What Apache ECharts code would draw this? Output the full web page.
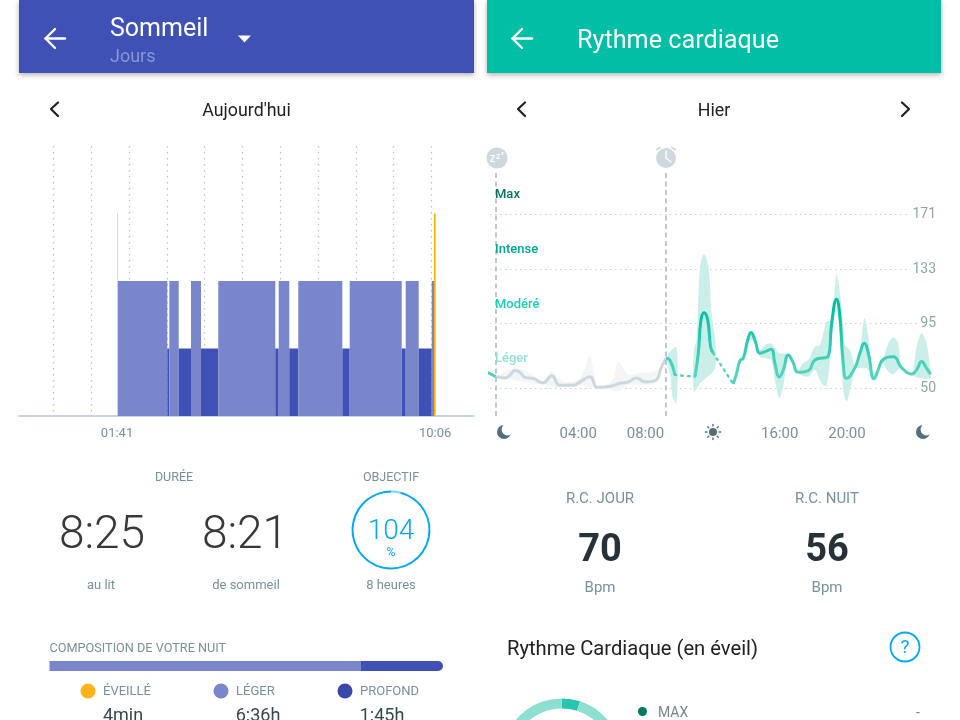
<!DOCTYPE html>
<html>
<head>
<meta charset="utf-8">
<title>Sommeil / Rythme cardiaque</title>
<style>html,body{margin:0;padding:0;background:#fff}#a{width:960px;height:720px}</style>
<script src="https://cdn.jsdelivr.net/npm/echarts@6/dist/echarts.min.js"></script>
</head>
<body>
<div id="a"></div>
<script>
// sommeil : minutes depuis minuit, stade 1 profond, 2 leger, 3 eveille
var sleepStart = [101.4, 102.4, 180.8, 184, 198.9, 218.4, 234.3, 261.7, 352.2, 357.6, 374.4, 388.7, 458.6, 470.3, 552.9, 559.2, 579.8, 600.5, 604.1];
var sleepEnd   = [102.4, 180.8, 184, 198.9, 218.4, 234.3, 261.7, 352.2, 357.6, 374.4, 388.7, 458.6, 470.3, 552.9, 559.2, 579.8, 600.5, 604.1, 606.8];
var sleepStage = [3, 2, 1, 2, 1, 2, 1, 2, 1, 2, 1, 2, 1, 2, 1, 2, 1, 2, 3];
var hourTicks = [0, 60, 120, 180, 240, 300, 360, 420, 480, 540, 600];
var sleepLabels = [101, 606];
var compoLight = [396];
var compoDeep = [105];
var goalPart = [4, 96];

// rythme cardiaque : [heure, bpm]
var hrTicks = [50, 95, 133, 171];
var hourLabels = [4, 8, 16, 20];
var sleepMarks = [-0.92, 9.23];
var hrBefore = [[-1.45, 61.4], [-0.91, 58.1]];
var hrNight = [[-0.91, 58.1], [-0.36, 57.2], [-0.06, 59.3], [0.24, 62.3], [0.54, 60.9], [0.83, 57.6], [1.33, 56.7], [1.92, 53.9], [2.42, 58.5], [2.92, 52.1], [3.71, 52.1], [4.11, 54.4], [4.70, 58.1], [5.14, 50.7], [5.99, 51.6], [6.49, 53.5], [6.98, 54.4], [7.48, 57.2], [7.98, 54.4], [8.57, 55.3], [8.97, 65.1], [9.23, 70.9]];
var hrMorning = [[9.23, 70.9], [9.46, 69.7], [9.76, 59.3]];
var hrGap1 = [[9.76, 59.3], [10.36, 58.6], [10.95, 58.1]];
var hrPeak = [[10.95, 58.1], [11.15, 74.4], [11.31, 97.6], [11.49, 102.7], [11.71, 97.6], [11.88, 79], [12.04, 74.4]];
var hrGap2 = [[12.04, 74.4], [13.23, 53.0]];
var hrDay = [[13.23, 53.0], [13.43, 60.4], [13.63, 69.3], [13.83, 70.9], [14.09, 83.6], [14.29, 88.8], [14.52, 83.6], [14.82, 74.4], [15.12, 75.5], [15.48, 77.2], [15.71, 67.4], [15.97, 57.9], [16.21, 62.8], [16.51, 73.2], [16.77, 68.6], [17.10, 61.1], [17.70, 62.3], [18.09, 69.7], [18.89, 72.5], [19.09, 95.3], [19.38, 112.0], [19.58, 99.9], [19.78, 67.4], [19.98, 56.9], [20.48, 64.4], [20.77, 74.4], [21.03, 81.3], [21.27, 74.4], [21.61, 56.7], [21.86, 62.8], [22.12, 69.7], [22.76, 72.0], [23.25, 64.4], [23.85, 60.0], [24.15, 62.8], [24.44, 68.6], [24.74, 63.9], [24.98, 59.7]];

// plages min / max autour de la courbe
var nightUpper = [[-0.91, 58.1], [0.24, 63.9], [1.13, 60.4], [1.92, 54.6], [2.42, 61.6], [3.11, 54.6], [4.11, 57], [4.70, 72.5], [5.14, 52.3], [5.99, 54.6], [6.39, 68.5], [6.98, 59.3], [7.48, 60.4], [8.57, 61.6], [8.97, 65.1], [9.23, 70.9]];
var nightLower = [[9.23, 70.9], [8.57, 53.5], [6.98, 52.3], [6.39, 47.6], [5.99, 48.8], [5.14, 49.8], [4.11, 52.3], [2.92, 50.7], [1.92, 52.3], [-0.91, 58.1]];
var morningUpper = [[9.23, 70.9], [9.46, 75.5], [9.86, 78.6]];
var morningLower = [[9.86, 39.5], [9.62, 44.2], [9.46, 60.4], [9.23, 70.9]];
var peakUpper = [[10.89, 76.7], [11.05, 83.7], [11.25, 134.8], [11.49, 143.6], [11.75, 134.8], [11.94, 102.2], [12.14, 84.8]];
var peakLower = [[12.14, 63.9], [11.25, 53.5], [10.89, 47.6]];
var dayUpper = [[13.23, 53.0], [13.63, 69.3], [14.09, 84.8], [14.29, 89.4], [14.52, 84.8], [14.82, 76.7], [15.12, 80.2], [15.48, 81.3], [15.71, 77.9], [15.97, 74.4], [16.51, 73.9], [17.00, 61.6], [17.40, 67.4], [17.70, 69.7], [18.09, 79.0], [18.39, 80.2], [18.79, 96.4], [19.09, 97.6], [19.38, 129.0], [19.68, 106.9], [19.88, 80.2], [20.18, 76.7], [20.48, 65.1], [20.77, 74.4], [21.03, 98.8], [21.27, 86.0], [21.57, 60.4], [22.12, 69.7], [22.46, 81.3], [22.76, 85.5], [23.05, 81.3], [23.25, 65.1], [23.85, 60.4], [24.15, 79.0], [24.44, 88.3], [24.74, 81.3], [24.98, 60.4]];
var dayLower = [[24.98, 57.0], [24.34, 57.0], [23.85, 59.3], [23.25, 64.4], [22.76, 59.7], [22.46, 61.6], [22.12, 67.4], [21.61, 56.7], [21.37, 60.4], [21.17, 63.9], [20.77, 63.9], [20.48, 63.9], [20.28, 53.5], [19.98, 40.7], [19.78, 48.8], [19.58, 83.7], [19.38, 109.2], [19.09, 83.7], [18.79, 51.6], [18.49, 53.5], [18.09, 62.8], [17.70, 58.1], [17.10, 60.4], [16.51, 72.0], [16.21, 51.2], [15.97, 43.0], [15.71, 55.8], [15.48, 69.7], [15.12, 70.9], [14.82, 72.0], [14.52, 82.5], [14.09, 82.5], [13.63, 68.6], [13.23, 53.0]];

var zoneNames = ['Max', 'Intense', 'Modéré', 'Léger'];
var zoneColors = ['#00745f', '#00a88f', '#1ccfb3', '#93e2d4'];
var zonePart = [5, 95];

var font = 'Roboto';
var grey = '#78909c';

function pad(h) {
    return (h < 10 ? '0' : '') + h;
}

function txt(s, x, y, size, color, align, weight) {
    return {
        type: 'text', x: x, y: y, z: 20, silent: true,
        style: {
            text: s, fill: color, fontFamily: font, fontSize: size,
            fontWeight: weight || 400, align: align || 'center', verticalAlign: 'middle'
        }
    };
}

function stroke(points, color, width) {
    return {
        type: 'polyline', z: 20, silent: true,
        shape: { points: points },
        style: { stroke: color, lineWidth: width, fill: null, lineCap: 'round', lineJoin: 'round' }
    };
}

function dot(x, y, r, color) {
    return { type: 'circle', z: 20, silent: true, shape: { cx: x, cy: y, r: r }, style: { fill: color } };
}

function moon(x, y) {
    return [dot(x, y, 7, '#546e7a'), dot(x + 3.6, y - 2.6, 6, '#fff')];
}

function sun(x, y) {
    var list = [dot(x, y, 4, '#546e7a')];
    for (var i = 0; i < 8; i++) {
        var a = i * Math.PI / 4;
        list.push(stroke([[x + 6 * Math.cos(a), y + 6 * Math.sin(a)], [x + 7.6 * Math.cos(a), y + 7.6 * Math.sin(a)]], '#546e7a', 1.4));
    }
    return list;
}

// un polygone par plage, construit avec l'echelle de l'axe
function band(upper, lower, color) {
    var pts = upper.concat(lower);
    return {
        type: 'custom', xAxisIndex: 1, yAxisIndex: 1, silent: true, z: 1, clip: false,
        data: pts,
        encode: { x: 0, y: 1 },
        renderItem: function (params, api) {
            if (params.dataIndex !== 0) return null;
            return {
                type: 'polygon',
                shape: { points: pts.map(function (p) { return api.coord(p); }), smooth: 0.3 },
                style: { fill: color }
            };
        }
    };
}

function hrLine(data, color, width, dotted) {
    return {
        type: 'line', xAxisIndex: 1, yAxisIndex: 1, silent: true, z: 3, clip: false,
        data: data, smooth: 0.5, symbol: 'none',
        lineStyle: { color: color, width: width, type: dotted ? [1.5, 5] : 'solid', cap: dotted ? 'round' : 'butt' }
    };
}

var tealLine = {
    type: 'linear', global: true, x: 0, y: 310, x2: 0, y2: 372,
    colorStops: [{ offset: 0, color: '#00bfa5' }, { offset: 1, color: '#52d3bf' }]
};

var sleepData = sleepStart.map(function (s, i) { return [s, sleepEnd[i], sleepStage[i]]; });
var stageColors = { 1: '#3f51b5', 2: '#7986cb', 3: '#ffb300' };

var graphics = [
    // en-tetes
    { type: 'rect', z: 10, silent: true, shape: { x: 19, y: 0, width: 455, height: 73 }, style: { fill: '#3f51b5', shadowBlur: 5, shadowOffsetY: 2, shadowColor: 'rgba(0,0,0,0.3)' } },
    { type: 'rect', z: 10, silent: true, shape: { x: 487, y: 0, width: 454, height: 73 }, style: { fill: '#00bfa5', shadowBlur: 5, shadowOffsetY: 2, shadowColor: 'rgba(0,0,0,0.3)' } },
    stroke([[65, 38.5], [45.5, 38.5]], '#fff', 2.4),
    stroke([[55, 29], [45.5, 38.5], [55, 48]], '#fff', 2.4),
    stroke([[532, 38.5], [512.5, 38.5]], '#fff', 2.4),
    stroke([[522, 29], [512.5, 38.5], [522, 48]], '#fff', 2.4),
    { type: 'polygon', z: 20, silent: true, shape: { points: [[238, 35.5], [251, 35.5], [244.5, 42.5]] }, style: { fill: '#fff' } },
    txt('Sommeil', 110, 29.5, 25, '#fff', 'left'),
    txt('Jours', 110, 57.5, 18, '#8b95d6', 'left'),
    txt('Rythme cardiaque', 577, 41.5, 25.2, '#fff', 'left'),
    stroke([[58, 102.5], [51, 109], [58, 116]], '#212121', 2.2),
    stroke([[525, 102.5], [518, 109], [525, 116]], '#212121', 2.2),
    stroke([[902, 102.5], [909, 109], [902, 116]], '#212121', 2.2),
    txt("Aujourd'hui", 246.5, 111.5, 17.8, '#212121'),
    txt('Hier', 714, 111.5, 17.8, '#212121'),

    // resume sommeil
    txt('DURÉE', 174, 477.5, 12.5, grey),
    txt('OBJECTIF', 391, 477.5, 12.5, grey),
    txt('8:25', 102, 536, 46, '#37383a', 'center', 300),
    txt('8:21', 245, 536, 46, '#37383a', 'center', 300),
    txt('104', 391, 531.5, 28, '#03a9f4', 'center', 300),
    txt('%', 391, 553, 12, '#03a9f4'),
    txt('au lit', 101, 585.5, 13, grey),
    txt('de sommeil', 246, 585.5, 13, grey),
    txt('8 heures', 391, 585.5, 13, grey),
    txt('COMPOSITION DE VOTRE NUIT', 49.5, 648.5, 12.7, grey, 'left'),
    dot(88, 691, 7.5, '#ffb31a'),
    dot(221, 691, 7.5, '#7986cb'),
    dot(345, 691, 7.5, '#3949ab'),
    txt('ÉVEILLÉ', 103, 691.5, 13, grey, 'left'),
    txt('LÉGER', 236, 691.5, 13, grey, 'left'),
    txt('PROFOND', 360, 691.5, 13, grey, 'left'),
    txt('4min', 123, 716, 18, '#37474f'),
    txt('6:36h', 258, 716, 18, '#37474f'),
    txt('1:45h', 382, 716, 18, '#37474f'),

    // icones du graphique cardiaque
    dot(497, 158, 10.5, '#cfd8dc'),
    txt('Z', 492.5, 160, 9, '#fff', 'center', 700),
    txt('Z', 498, 157, 7, '#fff', 'center', 700),
    txt('z', 502.5, 154, 5, '#fff', 'center', 700),
    dot(666, 158, 10, '#cfd8dc'),
    stroke([[666, 151], [666, 158], [671, 162]], '#fff', 1.4),
    stroke([[657, 149.5], [660, 147.5]], '#cfd8dc', 2),
    stroke([[675, 149.5], [672, 147.5]], '#cfd8dc', 2),

    // resume cardiaque
    txt('R.C. JOUR', 600, 499.5, 15, grey),
    txt('R.C. NUIT', 827, 499.5, 15, grey),
    txt('70', 600, 551, 38, '#263238', 'center', 700),
    txt('56', 827, 551, 38, '#263238', 'center', 700),
    txt('Bpm', 600, 588.5, 15, grey),
    txt('Bpm', 827, 588.5, 15, grey),
    txt('Rythme Cardiaque (en éveil)', 507, 650, 20.2, '#212121', 'left'),
    { type: 'circle', z: 20, silent: true, shape: { cx: 905, cy: 647, r: 14.5 }, style: { fill: null, stroke: '#03a9f4', lineWidth: 1.8 } },
    txt('?', 905, 648, 19, '#03a9f4'),
    dot(642.5, 711.5, 4.5, '#00795f'),
    txt('MAX', 658, 713, 14, '#78868c', 'left'),
    txt('-', 918, 713, 14, '#78868c')
].concat(sun(713, 432), moon(504, 432), moon(923, 432));

// etiquettes de zones
zoneNames.forEach(function (name, i) {
    graphics.push(txt(name, 495, [194.5, 249.5, 304.5, 358.5][i], 13, zoneColors[i], 'left', 500));
});

var option = {
    animation: false,
    backgroundColor: '#fff',
    textStyle: { fontFamily: font },
    graphic: graphics,
    grid: [
        { left: 19, top: 146, width: 455, height: 270 },
        { left: 490, top: 148.6, width: 446, height: 269.8 },
        { left: 49.5, top: 661, width: 393.5, height: 10 }
    ],
    xAxis: [
        {
            type: 'value', gridIndex: 0, min: -54.6, max: 667.6,
            axisLine: { show: true, onZero: false, lineStyle: { color: '#b5c7cf', width: 1.5 } },
            axisTick: { show: false, customValues: hourTicks },
            axisLabel: {
                customValues: sleepLabels, color: grey, fontSize: 13, margin: 11,
                formatter: function (v) { return pad(Math.floor(v / 60)) + ':' + pad(v % 60); }
            },
            splitLine: { show: true, lineStyle: { color: '#b4c2c9', type: [1.5, 4.5], width: 1.2 } }
        },
        {
            type: 'value', gridIndex: 1, min: -1.25, max: 25.3,
            axisLine: { show: false },
            axisTick: { show: false, customValues: hourLabels },
            axisLabel: {
                customValues: hourLabels, color: grey, fontSize: 15, margin: 8,
                formatter: function (v) { return pad(v) + ':00'; }
            },
            splitLine: { show: false }
        },
        { type: 'value', gridIndex: 2, min: 0, max: 501, show: false }
    ],
    yAxis: [
        { type: 'value', gridIndex: 0, min: 0, max: 4, show: false, splitLine: { show: false } },
        {
            type: 'value', gridIndex: 1, min: 29, max: 217, position: 'right',
            axisLine: { show: false },
            axisTick: { show: false, customValues: hrTicks },
            axisLabel: {
                inside: true, customValues: hrTicks, color: '#90a4ae', fontSize: 14, margin: 0,
                backgroundColor: '#fff', padding: [3, 0, 0, 2]
            },
            splitLine: { show: true, lineStyle: { color: '#c6d0d5', type: [1.5, 3.5], width: 1 } }
        },
        { type: 'category', gridIndex: 2, data: ['nuit'], show: false }
    ],
    series: [
        {
            type: 'custom', xAxisIndex: 0, yAxisIndex: 0, silent: true, z: 2,
            data: sleepData,
            encode: { x: [0, 1], y: 2 },
            renderItem: function (params, api) {
                var a = api.coord([api.value(0), api.value(2)]);
                var b = api.coord([api.value(1), 0]);
                var stage = api.value(2);
                var color = stageColors[stage];
                if (params.dataIndex === 0) color = '#ffc233';
                return {
                    type: 'rect',
                    shape: { x: a[0], y: a[1], width: b[0] - a[0], height: b[1] - a[1] },
                    style: { fill: color }
                };
            }
        },
        band(nightUpper, nightLower, '#f3f5f6'),
        band(morningUpper, morningLower, '#c9efe8'),
        band(peakUpper, peakLower, '#c9efe8'),
        band(dayUpper, dayLower, '#c9efe8'),
        hrLine(hrBefore, '#4fd2bd', 3),
        hrLine(hrNight, '#cdd8de', 3),
        hrLine(hrMorning, tealLine, 3),
        hrLine(hrGap1, '#4fd2bd', 2.4, true),
        hrLine(hrPeak, tealLine, 3),
        hrLine(hrGap2, '#4fd2bd', 2.4, true),
        hrLine(hrDay, tealLine, 3),
        {
            type: 'line', xAxisIndex: 1, yAxisIndex: 1, silent: true, data: [], z: 2,
            markLine: {
                silent: true, symbol: 'none', animation: false, label: { show: false },
                lineStyle: { color: '#a9b8c0', type: [5, 3.5], width: 1.5 },
                data: sleepMarks.map(function (h) {
                    return [{ xAxis: h, yAxis: 200 }, { xAxis: h, yAxis: 30 }];
                })
            }
        },
        {
            type: 'bar', xAxisIndex: 2, yAxisIndex: 2, stack: 'nuit', silent: true, barWidth: 10,
            data: compoLight, itemStyle: { color: '#7986cb' }
        },
        {
            type: 'bar', xAxisIndex: 2, yAxisIndex: 2, stack: 'nuit', silent: true, barWidth: 10,
            data: compoDeep, itemStyle: { color: '#3f51b5', borderRadius: [0, 5, 5, 0] }
        },
        {
            type: 'pie', center: [391, 530], radius: [37.5, 39.5], startAngle: 90, silent: true,
            label: { show: false }, labelLine: { show: false },
            data: [
                { value: goalPart[0], itemStyle: { color: '#7fd4f9' } },
                { value: goalPart[1], itemStyle: { color: '#03a9f4' } }
            ]
        },
        {
            type: 'pie', center: [561.7, 758], radius: [49.6, 59.6], startAngle: 90, silent: true,
            label: { show: false }, labelLine: { show: false },
            data: [
                { value: zonePart[0], itemStyle: { color: '#2ac5ae' } },
                { value: zonePart[1], itemStyle: { color: '#8de0d0' } }
            ]
        }
    ]
};

var myechart = echarts.init(document.getElementById('a'));
myechart.setOption(option);
</script>
</body>
</html>
